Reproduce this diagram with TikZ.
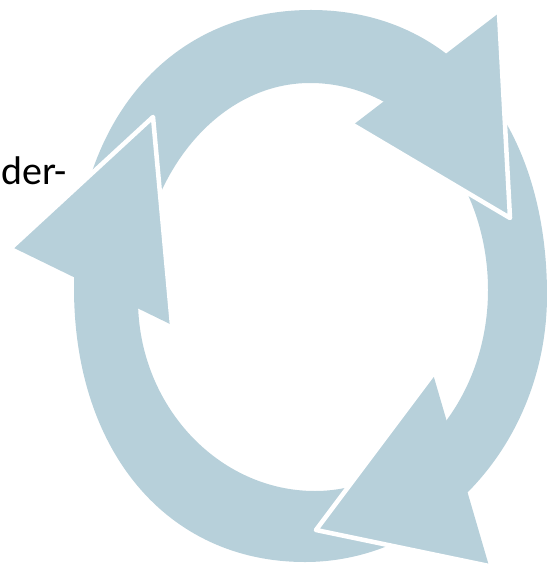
\documentclass[tikz,border=0pt]{standalone}
\usepackage{fontspec}
\setmainfont{Carlito}
\usepackage{xcolor}
\usepackage{tikz}
\usetikzlibrary{positioning, calc}
\definecolor{ringblue}{RGB}{183,208,218}

\begin{document}
\begin{tikzpicture}[x=0.75pt, y=-0.75pt]
        \tikzstyle{ring} = [fill=ringblue, even odd rule]
        \tikzstyle{head} = [fill=ringblue]
        \tikzstyle{rim} = [draw=white, line width=3.4pt, line join=round, line cap=round]
        \useasboundingbox (0,0) rectangle (546,566);

        \coordinate (ot) at (311,10);
        \coordinate (or) at (547,295);
        \coordinate (ob) at (305,562);
        \coordinate (ol) at (74,288);
        \coordinate (it) at (310,83);
        \coordinate (ir) at (488,290);
        \coordinate (ib) at (315,491);
        \coordinate (il) at (138,300);

        \fill [ring] (ot) .. controls (453,10) and (547,124) .. (or)
                          .. controls (547,442) and (438,562) .. (ob)
                          .. controls (167,562) and (74,451) .. (ol)
                          .. controls (74,122) and (169,10) .. (ot) -- cycle
                     (it) .. controls (408,83) and (488,176) .. (ir)
                          .. controls (488,401) and (410,491) .. (ib)
                          .. controls (218,491) and (138,405) .. (il)
                          .. controls (138,181) and (215,83) .. (it) -- cycle;

        \coordinate (h1a) at (499,13);
        \coordinate (h1t) at (510,218);
        \coordinate (h1b) at (353,125);
        \coordinate (h2a) at (433,374);
        \coordinate (h2t) at (316,530);
        \coordinate (h2b) at (489,566);
        \coordinate (h3a) at (172,325);
        \coordinate (h3t) at (153,117);
        \coordinate (h3b) at (12,247);

        \fill [head] (h1a) -- (h1t) -- (h1b) -- cycle;
        \fill [head] (h2a) -- (h2t) -- (h2b) -- cycle;
        \fill [head] (h3a) -- (h3t) -- (h3b) -- cycle;
        \draw [rim] (h1a) -- (h1t) -- (h1b);
        \draw [rim] (h2a) -- (h2t) -- (h2b);
        \draw [rim] (h3a) -- (h3t) -- (h3b);

        \node [anchor=base west, inner sep=0pt, font=\fontsize{30}{31}\selectfont] (label) at (1,185) {der-};
    \end{tikzpicture}
\end{document}
